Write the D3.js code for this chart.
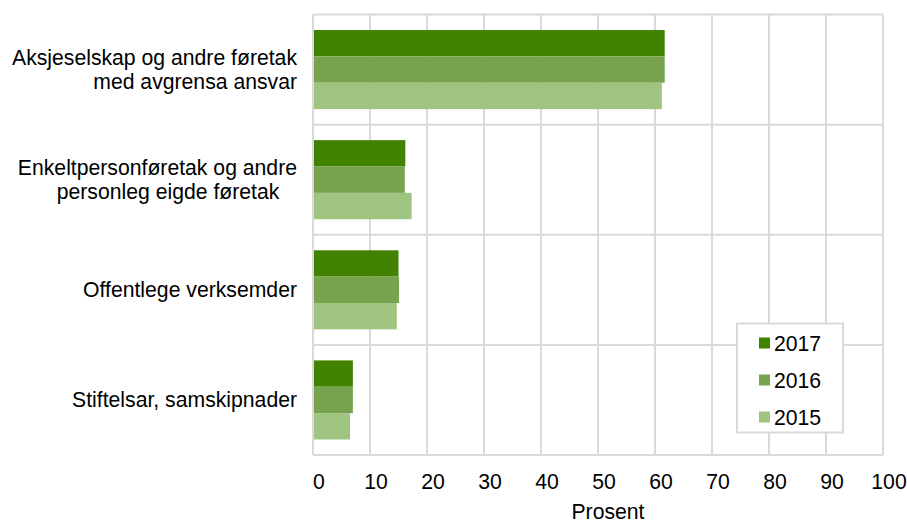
<!DOCTYPE html>
<html>
<head>
<meta charset="utf-8">
<script src="https://cdn.jsdelivr.net/npm/d3@7"></script>
<style>
  html, body { margin: 0; padding: 0; background: #fff; }
  svg { display: block; font-family: "Liberation Sans", Arial, sans-serif; }
  text { white-space: pre; }
</style>
</head>
<body>
<svg id="chart" width="907" height="524"></svg>
<script>
// ---- data ----
const categories = [
  ["Aksjeselskap og andre føretak", "med avgrensa ansvar"],
  ["Enkeltpersonføretak og andre", "personleg eigde føretak   "],
  ["Offentlege verksemder"],
  ["Stiftelsar, samskipnader"]
];
const years = ["2017", "2016", "2015"];
const values2017 = [61.7, 16.2, 15.0, 7.0];
const values2016 = [61.7, 16.1, 15.1, 7.0];
const values2015 = [61.2, 17.3, 14.7, 6.5];
const xTicks = [0, 10, 20, 30, 40, 50, 60, 70, 80, 90, 100];
const xTitle = "Prosent";
const colors = ["#418300", "#77a34f", "#9fc47f"];

const seriesValues = [values2017, values2016, values2015];

// ---- layout ----
const svg = d3.select("#chart");
const plot = { left: 313, right: 883, top: 14.5, bottom: 455 };
const fontSize = 21.2;
const gridColor = "#d9d9d9";

const catIdx = categories.map((d, i) => i);
const x = d3.scaleLinear().domain([0, 100]).range([plot.left, plot.right]);
const y = d3.scaleBand().domain(catIdx).range([plot.top, plot.bottom])
  .paddingInner(0.282).paddingOuter(0.141);
const ySub = d3.scaleBand().domain(years).range([0, y.bandwidth()]);

// horizontal gridlines at band boundaries
const hLines = d3.range(categories.length + 1).map(i => plot.top + i * (plot.bottom - plot.top) / categories.length);
svg.append("g").selectAll("line").data(hLines).join("line")
  .attr("x1", plot.left).attr("x2", plot.right)
  .attr("y1", d => d).attr("y2", d => d)
  .attr("stroke", gridColor).attr("stroke-width", 2);

// vertical gridlines
svg.append("g").selectAll("line").data(xTicks).join("line")
  .attr("x1", d => x(d)).attr("x2", d => x(d))
  .attr("y1", plot.top).attr("y2", plot.bottom)
  .attr("stroke", gridColor).attr("stroke-width", 2);

// bars
const groups = svg.append("g").selectAll("g").data(catIdx).join("g")
  .attr("transform", d => `translate(0,${y(d)})`);
groups.selectAll("rect")
  .data(ci => years.map((yr, si) => ({ yr, si, v: seriesValues[si][ci] })))
  .join("rect")
  .attr("x", x(0) + 1)
  .attr("y", d => ySub(d.yr))
  .attr("width", d => x(d.v) - x(0) - 1)
  .attr("height", ySub.bandwidth())
  .attr("fill", d => colors[d.si]);

// category labels
const labelX = 297;
const lineH = 24;
const catG = svg.append("g").attr("font-size", fontSize).attr("fill", "#000");
catIdx.forEach(ci => {
  const lines = categories[ci];
  const cy = y(ci) + y.bandwidth() / 2;
  const t = catG.append("text").attr("text-anchor", "end");
  lines.forEach((ln, li) => {
    t.append("tspan")
      .attr("x", labelX)
      .attr("y", cy + (li - (lines.length - 1) / 2) * lineH + fontSize * 0.35)
      .text(ln);
  });
});

// x axis tick labels
const xAxis = d3.axisBottom(x).tickValues(xTicks).tickSize(0).tickPadding(0);
const axG = svg.append("g").attr("transform", `translate(0,${plot.bottom})`).call(xAxis);
axG.select(".domain").remove();
axG.selectAll("text")
  .attr("font-size", fontSize)
  .attr("font-family", "Liberation Sans, Arial, sans-serif")
  .attr("fill", "#000")
  .attr("dx", 5.5)
  .attr("dy", 0)
  .attr("y", 34);

// x title
svg.append("text")
  .attr("x", 608).attr("y", 519)
  .attr("text-anchor", "middle")
  .attr("font-size", fontSize)
  .attr("fill", "#000")
  .text(xTitle);

// legend
const lg = svg.append("g");
lg.append("rect")
  .attr("x", 737).attr("y", 323.5).attr("width", 106).attr("height", 109)
  .attr("fill", "#fff").attr("stroke", gridColor).attr("stroke-width", 2);
const legendY = d3.scalePoint().domain(years).range([343, 417]);
const items = lg.selectAll("g.item").data(years).join("g").attr("class", "item")
  .attr("transform", d => `translate(0,${legendY(d)})`);
items.append("rect")
  .attr("x", 759).attr("y", -5.5).attr("width", 11).attr("height", 11)
  .attr("fill", (d, i) => colors[i]);
items.append("text")
  .attr("x", 774).attr("y", fontSize * 0.36)
  .attr("font-size", fontSize).attr("fill", "#000")
  .text(d => d);
</script>
</body>
</html>
